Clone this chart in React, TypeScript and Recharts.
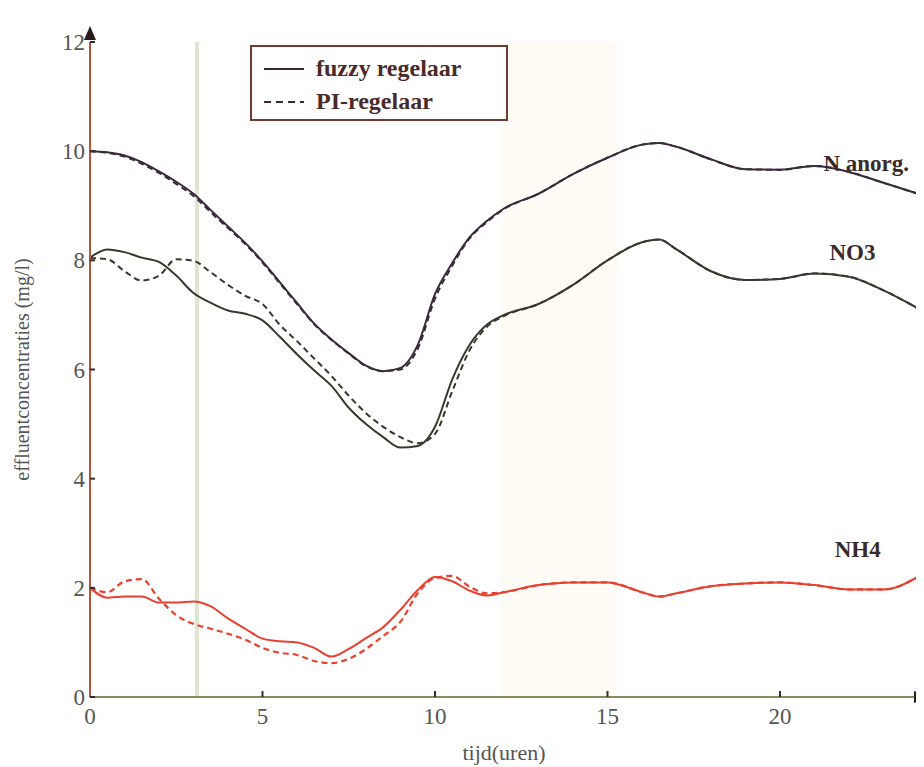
import { LineChart, Line, XAxis, YAxis, ReferenceArea, ReferenceLine, ReferenceDot } from 'recharts';

// tijd in uren
const tijd = [0, 0.5, 1, 1.5, 2, 2.5, 3, 3.5, 4, 4.5, 5, 5.5, 6, 6.5, 7, 7.5, 8, 8.5, 9, 9.5, 10, 10.5, 11, 11.5, 12, 13, 14, 15, 16, 16.5, 17, 18, 19, 20, 21, 22, 23, 24];

const nAnorgFuzzy = [10.0, 9.98, 9.92, 9.8, 9.63, 9.44, 9.22, 8.92, 8.62, 8.32, 7.98, 7.6, 7.22, 6.84, 6.55, 6.3, 6.07, 5.97, 6.03, 6.45, 7.38, 7.95, 8.42, 8.72, 8.95, 9.22, 9.58, 9.88, 10.12, 10.15, 10.08, 9.85, 9.67, 9.66, 9.73, 9.62, 9.42, 9.22];
const nAnorgPI = [10.0, 9.97, 9.9, 9.77, 9.6, 9.4, 9.18, 8.88, 8.59, 8.3, 7.96, 7.58, 7.2, 6.83, 6.54, 6.29, 6.06, 5.97, 6.0, 6.38, 7.3, 7.9, 8.4, 8.7, 8.94, 9.22, 9.58, 9.88, 10.12, 10.15, 10.08, 9.85, 9.67, 9.66, 9.73, 9.62, 9.42, 9.22];

const no3Fuzzy = [8.05, 8.2, 8.15, 8.05, 7.97, 7.72, 7.4, 7.22, 7.08, 7.02, 6.9, 6.6, 6.28, 5.98, 5.7, 5.3, 5.0, 4.76, 4.57, 4.6, 4.95, 5.82, 6.45, 6.82, 7.0, 7.2, 7.55, 8.0, 8.33, 8.38, 8.2, 7.8, 7.64, 7.66, 7.76, 7.7, 7.45, 7.12];
const no3PI = [8.04, 8.02, 7.8, 7.63, 7.72, 8.02, 7.99, 7.78, 7.55, 7.35, 7.2, 6.82, 6.52, 6.2, 5.88, 5.52, 5.2, 4.95, 4.76, 4.65, 4.82, 5.6, 6.35, 6.78, 6.98, 7.2, 7.55, 8.0, 8.33, 8.38, 8.2, 7.8, 7.64, 7.66, 7.76, 7.7, 7.45, 7.12];

const nh4Fuzzy = [2.0, 1.82, 1.84, 1.84, 1.73, 1.73, 1.75, 1.66, 1.44, 1.25, 1.07, 1.02, 1.0, 0.9, 0.74, 0.88, 1.08, 1.28, 1.6, 1.96, 2.2, 2.12, 1.95, 1.86, 1.92, 2.05, 2.1, 2.1, 1.92, 1.84, 1.9, 2.03, 2.08, 2.1, 2.05, 1.97, 1.97, 2.2];
const nh4PI = [2.0, 1.92, 2.12, 2.16, 1.8, 1.5, 1.34, 1.25, 1.16, 1.05, 0.9, 0.81, 0.77, 0.66, 0.62, 0.7, 0.88, 1.12, 1.38, 1.9, 2.18, 2.22, 2.02, 1.9, 1.92, 2.05, 2.1, 2.1, 1.92, 1.84, 1.9, 2.03, 2.08, 2.1, 2.05, 1.97, 1.97, 2.2];

const xTicks = [0, 5, 10, 15, 20];
const yTicks = [0, 2, 4, 6, 8, 10, 12];

const data = tijd.map((t, i) => ({
    t,
    nAnorgFuzzy: nAnorgFuzzy[i],
    nAnorgPI: nAnorgPI[i],
    no3Fuzzy: no3Fuzzy[i],
    no3PI: no3PI[i],
    nh4Fuzzy: nh4Fuzzy[i],
    nh4PI: nh4PI[i],
}));

const serif = '"Liberation Serif", "DejaVu Serif", serif';
const darkN = '#3a2a3c';
const darkNO3 = '#38382c';
const red = '#e8402e';

function LegendBox() {
    return (
        <div style={{
            position: 'absolute', left: 242, top: 37,
            border: '2px solid #6e3c30', width: 258, height: 76, boxSizing: 'border-box',
            fontFamily: serif, fontSize: 24, fontWeight: 'bold', color: '#4a2a28', background: '#fff',
            padding: '5px 0 0 12px', lineHeight: '33px'
        }}>
            <div style={{ display: 'flex', alignItems: 'center' }}>
                <svg width={42} height={10}><line x1={0} y1={5} x2={40} y2={5} stroke="#3a2a2a" strokeWidth={2} /></svg>
                <span style={{ marginLeft: 10 }}>fuzzy regelaar</span>
            </div>
            <div style={{ display: 'flex', alignItems: 'center' }}>
                <svg width={42} height={10}><line x1={0} y1={5} x2={40} y2={5} stroke="#3a2a2a" strokeWidth={2} strokeDasharray="7 5" /></svg>
                <span style={{ marginLeft: 10 }}>PI-regelaar</span>
            </div>
        </div>
    );
}

const seriesLabel = (value: string) => ({
    value,
    position: 'center' as const,
    style: { fontFamily: serif, fontSize: 23, fontWeight: 'bold', fill: '#3a2a2a' },
});

export default function App() {
    return (
        <div style={{ position: 'relative', width: 916, height: 759, background: '#fff' }}>
            <LineChart width={916} height={759} data={data} margin={{ top: 34, right: 6, left: 0, bottom: 0 }}>
                <ReferenceArea x1={11.9} x2={15.3} y1={0} y2={12} fill="#fdfaec" fillOpacity={0.6} stroke="none" ifOverflow="visible" />
                <ReferenceLine x={3.1} stroke="#e0e4cf" strokeWidth={4} />

                <XAxis
                    dataKey="t" type="number" domain={[0, 24]} ticks={xTicks} allowDataOverflow
                    height={70} axisLine={{ stroke: '#8a8a5c', strokeWidth: 2 }}
                    tickSize={-6} tickMargin={17}
                    tickLine={{ stroke: '#3a2a2a', strokeWidth: 2 }}
                    tick={{ fontFamily: serif, fontSize: 23, fill: '#555' }}
                    label={{ value: 'tijd(uren)', position: 'insideBottom', offset: 7, style: { fontFamily: serif, fontSize: 22, fill: '#555' } }}
                />
                <YAxis
                    type="number" domain={[0, 12]} ticks={yTicks} width={82}
                    axisLine={{ stroke: '#b4553a', strokeWidth: 2 }}
                    tickSize={-5} tickMargin={10}
                    tickLine={{ stroke: '#3a2a2a', strokeWidth: 2 }}
                    tick={{ fontFamily: serif, fontSize: 23, fill: '#555' }}
                    label={{ value: 'effluentconcentraties (mg/l)', angle: -90, position: 'insideLeft', offset: 14, style: { textAnchor: 'middle', fontFamily: serif, fontSize: 20, fill: '#555' } }}
                />

                <Line dataKey="nAnorgPI" type="monotone" stroke={darkN} strokeWidth={2} strokeDasharray="6 4" dot={false} isAnimationActive={false} />
                <Line dataKey="nAnorgFuzzy" type="monotone" stroke={darkN} strokeWidth={2} dot={false} isAnimationActive={false} />
                <Line dataKey="no3PI" type="monotone" stroke={darkNO3} strokeWidth={2} strokeDasharray="6 4" dot={false} isAnimationActive={false} />
                <Line dataKey="no3Fuzzy" type="monotone" stroke={darkNO3} strokeWidth={2} dot={false} isAnimationActive={false} />
                <Line dataKey="nh4PI" type="monotone" stroke={red} strokeWidth={2.2} strokeDasharray="6 4" dot={false} isAnimationActive={false} />
                <Line dataKey="nh4Fuzzy" type="monotone" stroke={red} strokeWidth={2} dot={false} isAnimationActive={false} />

                <ReferenceDot x={22.5} y={9.78} r={0} stroke="none" fill="none" label={seriesLabel('N anorg.')} />
                <ReferenceDot x={22.1} y={8.15} r={0} stroke="none" fill="none" label={seriesLabel('NO3')} />
                <ReferenceDot x={22.25} y={2.71} r={0} stroke="none" fill="none" label={seriesLabel('NH4')} />

                {/* pijlpunten aan de assen */}
                <ReferenceDot x={0} y={12} ifOverflow="visible"
                    shape={(p: any) => <path d={`M${p.cx - 6},${p.cy - 2} L${p.cx},${p.cy - 16} L${p.cx + 6},${p.cy - 2} Z`} fill="#2a1a1a" />} />
                <ReferenceDot x={24} y={0} ifOverflow="visible"
                    shape={(p: any) => <path d={`M${p.cx - 4},${p.cy - 6} L${p.cx + 10},${p.cy} L${p.cx - 4},${p.cy + 6} Z`} fill="#2a1a1a" />} />
            </LineChart>
            <LegendBox />
        </div>
    );
}
